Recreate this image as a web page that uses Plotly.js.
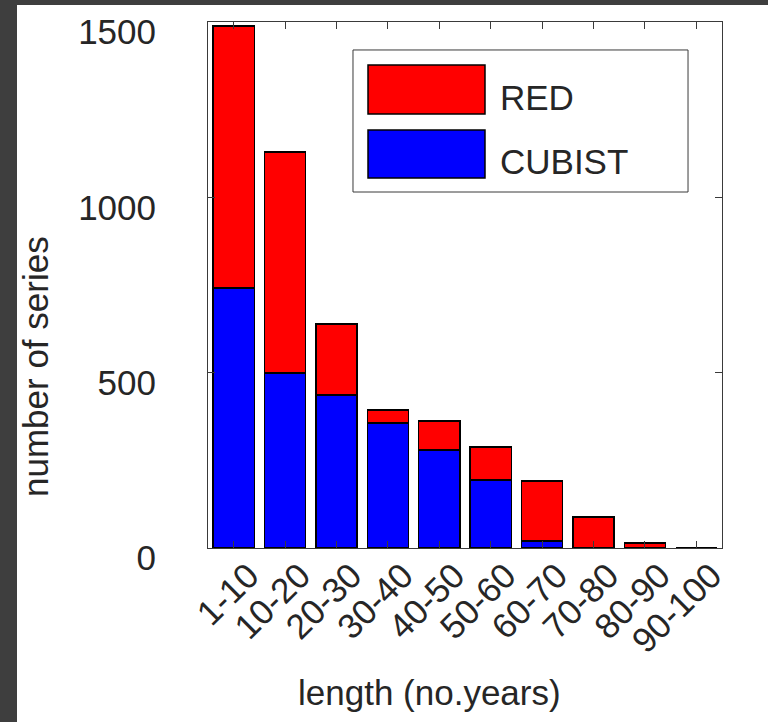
<!DOCTYPE html>
<html><head><meta charset="utf-8">
<script src="https://cdn.plot.ly/plotly-3.0.1.min.js"></script>
<style>
html,body{margin:0;padding:0;background:#3e3e3e;width:768px;height:722px;overflow:hidden;}
#chart{position:absolute;left:17px;top:5px;width:751px;height:717px;background:#fff;}
</style></head><body><div id="chart"></div>
<script>
const categories = ['1-10','10-20','20-30','30-40','40-50','50-60','60-70','70-80','80-90','90-100'];
const cubistValues = [741, 499, 436, 356, 279, 194, 20, 0, 0, 0];
const redValues = [747, 630, 203, 37, 83, 94, 171, 88, 14, 0];
const yTickVals = [0, 500, 1000, 1500];
const seriesNames = ['RED', 'CUBIST'];
const seriesColors = ['#ff0000', '#0000ff'];
const xTitle = 'length (no.years)';
const yTitle = 'number of series';

const FONT = '"Liberation Sans", Arial, sans-serif';
const TXT = '#262626';
const AX = '#3a3a3a';

const traces = [
  {type:'bar', name: seriesNames[1], x: categories, y: cubistValues,
   marker:{color: seriesColors[1], line:{color:'#000', width:1.5}}, width:0.8},
  {type:'bar', name: seriesNames[0], x: categories, y: redValues,
   marker:{color: seriesColors[0], line:{color:'#000', width:1.5}}, width:0.8}
];

const layout = {
  width: 751, height: 717,
  margin: {l:191, r:46, t:17, b:174},
  paper_bgcolor:'#fff', plot_bgcolor:'#fff',
  barmode:'stack', showlegend:false,
  font:{family:FONT, size:35, color:TXT},
  xaxis:{type:'category', range:[-0.5, 9.5], showline:true, linecolor:AX, linewidth:1,
    mirror:'ticks', ticks:'inside', ticklen:7, tickcolor:AX, tickangle:-45,
    tickfont:{size:35, color:TXT}, showgrid:false, zeroline:false, fixedrange:true,
    ticklabelshift:15, ticklabelstandoff:-8},
  yaxis:{range:[0,1500], tickvals:yTickVals, showline:true, linecolor:AX, linewidth:1,
    mirror:'ticks', ticks:'inside', ticklen:7, tickcolor:AX,
    tickfont:{size:35, color:TXT}, showgrid:false, zeroline:false,
    ticklabelshift:10, ticklabelstandoff:44},
  shapes:[
    {type:'rect', xref:'paper', yref:'paper', x0:0.2821, x1:0.9339, y0:0.6768, y1:0.9468,
     line:{color:AX, width:1}, fillcolor:'#fff', layer:'above'},
    {type:'rect', xref:'paper', yref:'paper', x0:0.3113, x1:0.5389, y0:0.8251, y1:0.9183,
     line:{color:'#000', width:1.5}, fillcolor:seriesColors[0], layer:'above'},
    {type:'rect', xref:'paper', yref:'paper', x0:0.3113, x1:0.5389, y0:0.7034, y1:0.7947,
     line:{color:'#000', width:1.5}, fillcolor:seriesColors[1], layer:'above'}
  ],
  annotations:[
    {xref:'paper', yref:'paper', x:0.5642, y:0.8574, xanchor:'left', yanchor:'middle',
     text:seriesNames[0], showarrow:false, font:{size:35, color:TXT}},
    {xref:'paper', yref:'paper', x:0.5642, y:0.7348, xanchor:'left', yanchor:'middle',
     text:seriesNames[1], showarrow:false, font:{size:35, color:TXT}},
    {xref:'paper', yref:'paper', x:0.43, y:-0.2738, xanchor:'center', yanchor:'middle',
     text:xTitle, showarrow:false, font:{size:35, color:TXT}},
    {xref:'paper', yref:'paper', x:-0.3366, y:0.346, xanchor:'center', yanchor:'middle',
     text:yTitle, textangle:-90, showarrow:false, font:{size:35, color:TXT}}
  ]
};

Plotly.newPlot('chart', traces, layout, {staticPlot:true, displayModeBar:false});
</script></body></html>
